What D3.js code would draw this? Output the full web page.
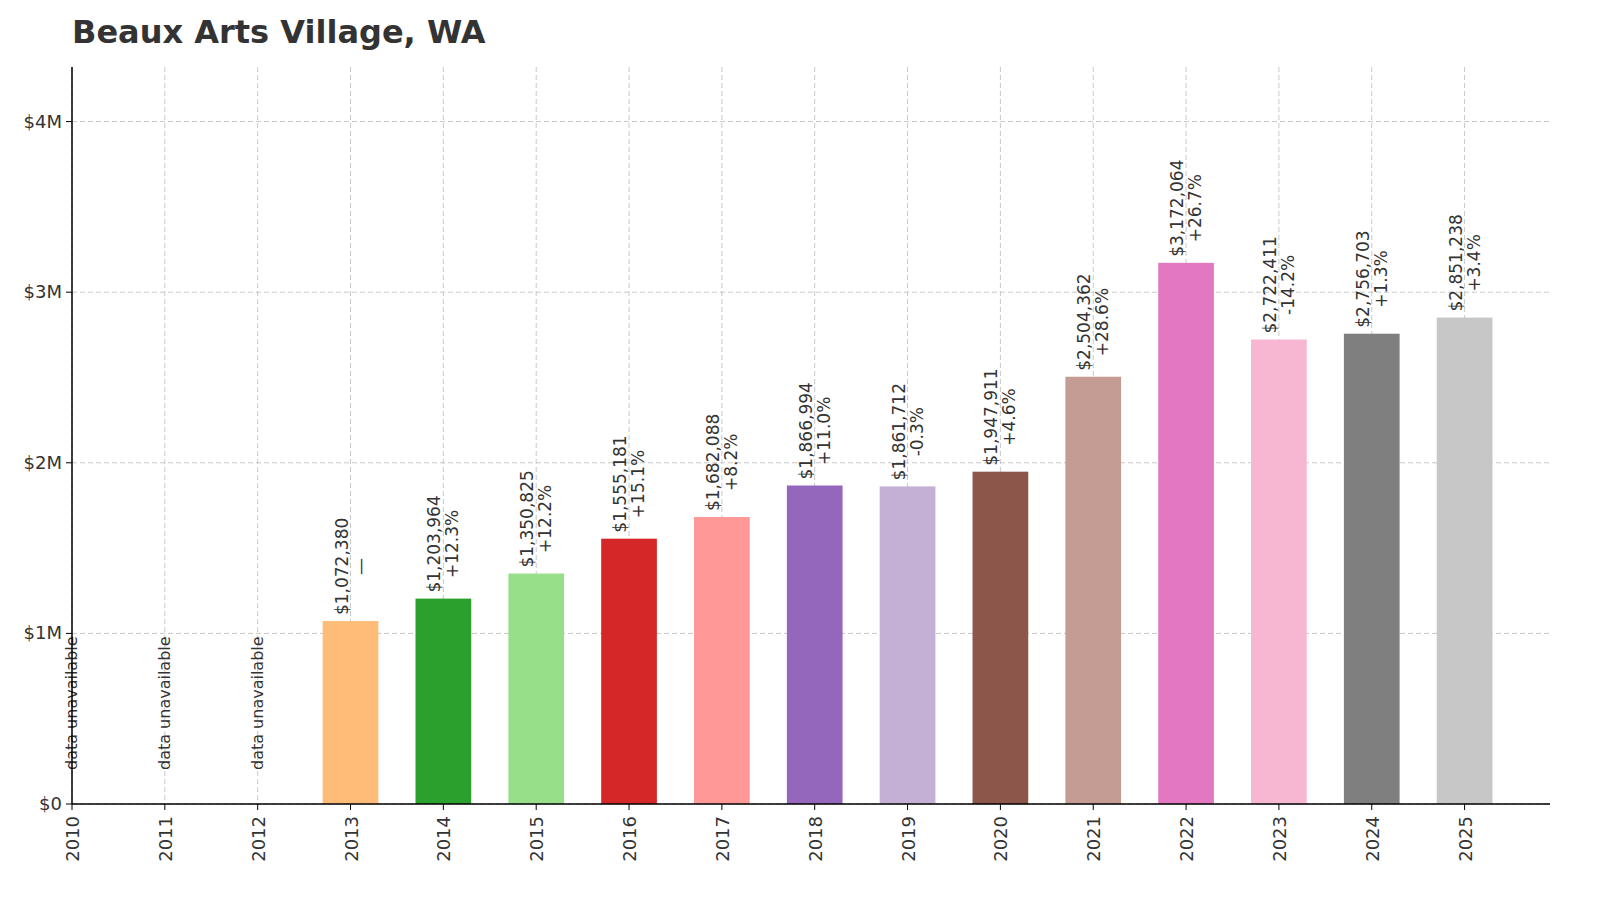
<!DOCTYPE html><html><head><meta charset="utf-8">
<script src="https://cdn.jsdelivr.net/npm/d3@7"></script>
<style>body{margin:0;background:#fff}</style></head><body>
<svg id="c" width="1600" height="903"></svg>
<script>
const years=[2010,2011,2012,2013,2014,2015,2016,2017,2018,2019,2020,2021,2022,2023,2024,2025];
const values=[null,null,null,1072380,1203964,1350825,1555181,1682088,1866994,1861712,1947911,2504362,3172064,2722411,2756703,2851238];
const changes=[null,null,null,"—","+12.3%","+12.2%","+15.1%","+8.2%","+11.0%","-0.3%","+4.6%","+28.6%","+26.7%","-14.2%","+1.3%","+3.4%"];
const colors=["#1f77b4","#aec7e8","#ff7f0e","#ffbb78","#2ca02c","#98df8a","#d62728","#ff9896","#9467bd","#c5b0d5","#8c564b","#c49c94","#e377c2","#f7b6d2","#7f7f7f","#c7c7c7"];
const yTicks=[0,1e6,2e6,3e6,4e6];
const yLabels=["$0","$1M","$2M","$3M","$4M"];
const svg=d3.select("#c"),L=72,R=1550,T=67,B=804;
const x=d3.scaleLinear().domain([2010,2025.92]).range([L,R]);
const y=d3.scaleLinear().domain([0,4.32e6]).range([B,T]);
const F="DejaVu Sans, sans-serif";
const g=svg.append("g");
years.forEach(yr=>g.append("line").attr("x1",x(yr)).attr("x2",x(yr)).attr("y1",T).attr("y2",B).attr("stroke","#c8c8c8").attr("stroke-dasharray","5,3"));
yTicks.forEach(v=>g.append("line").attr("x1",L).attr("x2",R).attr("y1",y(v)).attr("y2",y(v)).attr("stroke","#c8c8c8").attr("stroke-dasharray","5,3"));
const bw=x(2010.6)-x(2010);
years.forEach((yr,i)=>{
 const cx=x(yr);
 if(values[i]==null){
  svg.append("text").attr("transform",`translate(${cx+5},770) rotate(-90)`).attr("font-family",F).attr("font-size",16).attr("fill","#333").text("data unavailable");
  return;}
 svg.append("rect").attr("x",cx-bw/2).attr("width",bw).attr("y",y(values[i])).attr("height",B-y(values[i])).attr("fill",colors[i]);
 const ty=y(values[i])-6;
 const t1=svg.append("text").attr("transform",`translate(${cx-3},${ty}) rotate(-90)`).attr("font-family",F).attr("font-size",17).attr("fill","#333").text("$"+d3.format(",")(values[i]));
 const len=t1.node().getComputedTextLength();
 svg.append("text").attr("transform",`translate(${cx+15},${ty-len/2}) rotate(-90)`).attr("font-family",F).attr("font-size",17).attr("fill","#333").attr("text-anchor","middle").text(changes[i]);
});
svg.append("line").attr("x1",L).attr("x2",L).attr("y1",T).attr("y2",B).attr("stroke","#000").attr("stroke-width",1.5);
svg.append("line").attr("x1",L).attr("x2",R).attr("y1",B).attr("y2",B).attr("stroke","#000").attr("stroke-width",1.5);
yTicks.forEach((v,i)=>{
 svg.append("line").attr("x1",L-6).attr("x2",L).attr("y1",y(v)).attr("y2",y(v)).attr("stroke","#000");
 svg.append("text").attr("x",L-10).attr("y",y(v)+6).attr("text-anchor","end").attr("font-family",F).attr("font-size",18).attr("fill","#333").text(yLabels[i]);
});
years.forEach(yr=>{
 svg.append("line").attr("x1",x(yr)).attr("x2",x(yr)).attr("y1",B).attr("y2",B+6).attr("stroke","#000");
 svg.append("text").attr("transform",`translate(${x(yr)+7},${B+12}) rotate(-90)`).attr("text-anchor","end").attr("font-family",F).attr("font-size",18).attr("fill","#333").text(yr);
});
svg.append("text").attr("x",72).attr("y",43).attr("font-family",F).attr("font-weight","bold").attr("font-size",32).attr("fill","#333").text("Beaux Arts Village, WA");
</script></body></html>
